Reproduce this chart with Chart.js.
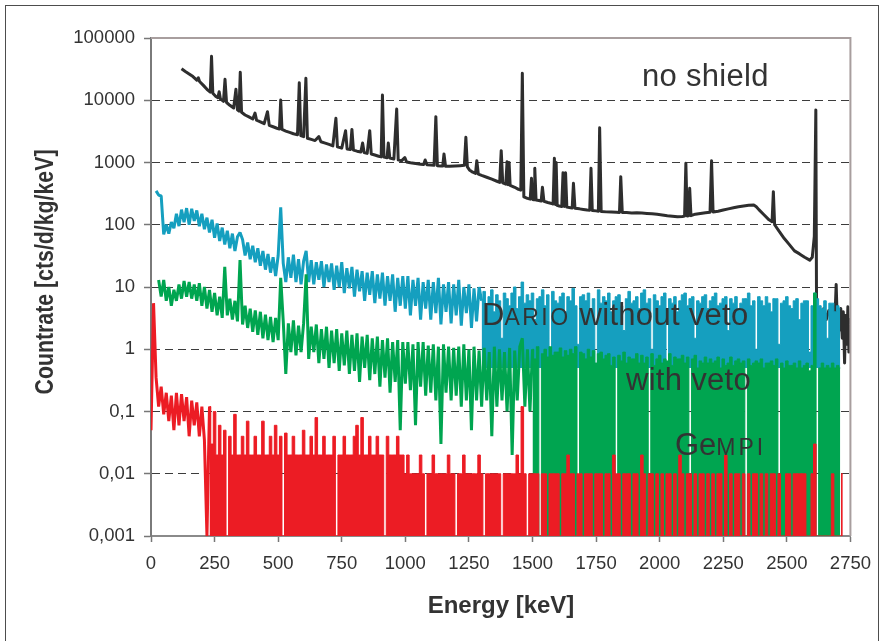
<!DOCTYPE html>
<html lang="es">
<head>
<meta charset="utf-8">
<title>Espectros de fondo</title>
<script src="https://cdn.jsdelivr.net/npm/chart.js@4.4.1/dist/chart.umd.min.js"></script>
<style>
  html, body { margin: 0; padding: 0; background: #ffffff; }
  canvas { display: block; }
</style>
</head>
<body>
<canvas id="graficoEspectro" width="882" height="641"></canvas>
<script>
// Ejes
const ticksEnergia = [0, 250, 500, 750, 1000, 1250, 1500, 1750, 2000, 2250, 2500, 2750];
const ticksTasa = [0.001, 0.01, 0.1, 1, 10, 100, 1000, 10000, 100000];
const etiquetasTasa = ['0,001', '0,01', '0,1', '1', '10', '100', '1000', '10000', '100000'];

// Canales de 10 keV (0 ... 2720 keV) para DARIO y GeMPI
const anchoCanal = 10;
const energiaCanal = [];
for (let e = 0; e <= 2720; e += anchoCanal) energiaCanal.push(e);

// GeMPI (0 = canal vacio)
const gempi = [
  0.05, 5.5, 0.35, 0.12, 0.25, 0.09, 0.2, 0.07, 0.18, 0.05,     // 0
  0.2, 0.06, 0.19, 0.07, 0.17, 0.04, 0.15, 0.06, 0.14, 0.04,    // 100
  0.12, 0.035, 0, 0.12, 0.03, 0.1, 0.02, 0.06, 0.02, 0.05,      // 200
  0, 0.04, 0.02, 0.09, 0.02, 0.02, 0.04, 0.02, 0.07, 0.02,      // 300
  0.02, 0.04, 0.02, 0.02, 0.07, 0.02, 0.02, 0.04, 0.02, 0.06,   // 400
  0.02, 0.04, 0, 0.045, 0.02, 0.02, 0.04, 0.02, 0.02, 0.02,     // 500
  0.05, 0.02, 0.02, 0.04, 0.02, 0.08, 0.02, 0.02, 0.04, 0.02,   // 600
  0.02, 0.02, 0.04, 0, 0.02, 0.02, 0.04, 0.02, 0.02, 0.02,      // 700
  0.04, 0.06, 0.02, 0.08, 0.02, 0.02, 0.04, 0.02, 0.02, 0.04,   // 800
  0.02, 0.02, 0, 0.04, 0.02, 0.02, 0.02, 0.04, 0.02, 0.02,      // 900
  0.01, 0.02, 0.01, 0.01, 0.01, 0.01, 0.02, 0.01, 0, 0.01,      // 1000
  0.01, 0.02, 0.01, 0.01, 0.01, 0.01, 0.01, 0.02, 0.01, 0.01,   // 1100
  0, 0.01, 0.01, 0.02, 0.01, 0.01, 0.01, 0.01, 0.01, 0.02,      // 1200
  0.01, 0, 0.01, 0.01, 0.01, 0.01, 0.01, 0.01, 0, 0.01,         // 1300
  0.01, 0.01, 0.01, 0.01, 0.02, 0.01, 0.12, 0.01, 0, 0.01,      // 1400
  0.01, 0.01, 0.01, 0, 0.01, 0.01, 0, 0.01, 0.01, 0.01,         // 1500
  0.01, 0, 0.01, 0.01, 0.02, 0.01, 0.01, 0, 0.01, 0.01,         // 1600
  0, 0.01, 0.01, 0.01, 0, 0.01, 0.01, 0.01, 0, 0.01,            // 1700
  0.01, 0, 0.02, 0.01, 0.01, 0, 0.01, 0.01, 0.01, 0,            // 1800
  0.01, 0.01, 0, 0.02, 0.01, 0, 0.01, 0.01, 0, 0.01,            // 1900
  0, 0.01, 0, 0.01, 0.01, 0, 0.01, 0, 0.02, 0.01,               // 2000
  0, 0.01, 0.01, 0, 0.01, 0, 0.01, 0.01, 0, 0.01,               // 2100
  0, 0.01, 0, 0.01, 0.01, 0, 0.02, 0, 0.01, 0,                  // 2200
  0.01, 0.01, 0, 0.01, 0, 0.01, 0, 0.01, 0.01, 0,               // 2300
  0.01, 0, 0.01, 0, 0.01, 0.01, 0, 0.01, 0, 0,                  // 2400
  0.01, 0.01, 0, 0.01, 0.01, 0.01, 0.01, 0.01, 0, 0,            // 2500
  0.01, 0.03, 0, 0, 0, 0, 0, 0, 0.01, 0,                        // 2600
  0, 0, 0.01                                                    // 2700
];

// DARIO con veto
const conVeto = [
  null, null, null, 13, 7, 13, 6, 10, 5, 9,                     // 0
  6, 11, 6.5, 12.5, 7, 12, 6.5, 11, 6, 11.5,                    // 100
  5, 10, 4.5, 9, 4, 8, 3.5, 7, 3.2, 21,                         // 200
  3.5, 6.5, 3, 6, 2.8, 27, 2.5, 5, 2.2, 4.5,                    // 300
  1.9, 4.2, 1.7, 4, 1.5, 3.6, 1.4, 3.3, 1.3, 3.2,               // 400
  1.4, 14, 2.8, 0.4, 2.6, 0.9, 2.9, 0.8, 2.4, 0.9,              // 500
  2.6, 16, 0.7, 2.3, 0.9, 2.5, 0.6, 2.1, 0.7, 2.3,              // 600
  0.5, 2, 0.6, 2.1, 0.45, 1.8, 0.55, 2, 0.4, 1.7,               // 700
  0.45, 1.8, 0.3, 1.6, 0.5, 1.7, 0.32, 1.5, 0.4, 1.6,           // 800
  0.25, 1.4, 0.35, 1.5, 0.2, 1.3, 0.3, 1.4, 0.05, 1.3,          // 900
  0.28, 1.3, 0.22, 1.2, 0.06, 1.3, 0.25, 1.3, 0.18, 1.15,       // 1000
  0.2, 1.2, 0.15, 1.1, 0.03, 1.2, 0.2, 1.1, 0.15, 1.05,         // 1100
  0.18, 1.1, 0.12, 1.2, 0.15, 1, 0.05, 1.1, 0.15, 0.95,         // 1200
  0.12, 1.05, 0.15, 0.9, 0.04, 1.1, 0.12, 1, 0.15, 0.9,         // 1300
  0.1, 1.05, 0.02, 0.95, 0.15, 1.1, 1.5, 0.12, 1, 0.1,          // 1400
  1, 0.7, 1.1, 0, 0.85, 1, 0.75, 1.1, 0.8, 0.9,                 // 1500
  0.9, 1.05, 0.75, 0.95, 0.8, 1, 0.85, 1.1, 0, 0.9,             // 1600
  0.85, 0.7, 1, 0.75, 0.95, 0.6, 0.85, 0.9, 0.7, 0.8,           // 1700
  0.85, 0.55, 0.75, 0, 0.8, 0.65, 0.9, 0.6, 0.75, 0.7,          // 1800
  0.7, 0.85, 0.6, 0.8, 0.6, 0.75, 0, 0.85, 0.55, 0.7,           // 1900
  0.8, 0.6, 0.7, 0.65, 0.85, 0.55, 0.75, 0.7, 0.7, 0.8,         // 2000
  0.6, 0.75, 0, 0.7, 0.8, 0.5, 0.65, 0.6, 0.75, 0.6,            // 2100
  0.7, 0.6, 0.65, 0.75, 0.5, 0.7, 0.55, 0.6, 0.75, 0.55,        // 2200
  0.65, 0.7, 0.6, 0.65, 0, 0.7, 0.55, 0.6, 0.65, 0.6,           // 2300
  0.7, 0.5, 0.6, 0.6, 0.65, 0.55, 0.7, 0, 0.6, 0.5,             // 2400
  0.65, 0.55, 0.55, 0.6, 0.5, 0.65, 0.5, 0.55, 0.6, 0.45,       // 2500
  0.55, 8, 0, 0.5, 0.6, 0.5, 0.55, 0.5, 0.6, 0.5,               // 2600
  0.55, 0.5, null                                               // 2700
];

// DARIO sin veto
const sinVeto = [
  null, null, 350, 300, 290, 70, 100, 72, 110, 88,              // 0
  150, 95, 175, 110, 185, 100, 180, 115, 170, 95,               // 100
  150, 85, 130, 75, 120, 62, 105, 55, 90, 48,                   // 200
  80, 42, 72, 38, 64, 75, 58, 32, 52, 28,                       // 300
  46, 25, 42, 22, 38, 19, 34, 17, 30, 15,                       // 400
  32, 190, 24, 12, 30, 14, 33, 12, 28, 11,                      // 500
  26, 38, 12, 27, 11, 25, 13, 26, 10, 23,                       // 600
  12, 24, 9, 22, 10, 25, 8, 20, 9.5, 21,                        // 700
  7, 19, 8.5, 18, 6, 17, 7.5, 18, 5.5, 16,                      // 800
  6.5, 17, 5, 15, 6, 16, 4, 14, 5, 15,                          // 900
  4.5, 15, 3.5, 13, 5, 14, 3, 12, 4.5, 13,                      // 1000
  3, 12, 3.8, 14, 2.5, 11, 4, 12, 2.6, 11,                      // 1100
  3.5, 13, 2.4, 10, 3.8, 11, 2.2, 9.5, 2.8, 10,                 // 1200
  6, 8.5, 5, 7, 9, 4, 7.5, 6, 1.5, 8,                           // 1300
  6.5, 5, 8, 10, 4.5, 7, 12, 5.5, 7.5, 6,                       // 1400
  8, 3, 6.5, 7, 9, 5, 7.5, 0.8, 8.5, 6,                         // 1500
  5.5, 7, 8, 4, 7, 6, 9.5, 5, 1.2, 7,                           // 1600
  7.5, 6, 8, 4.5, 6.5, 0, 9, 5.5, 7, 6,                         // 1700
  8, 4, 6, 7, 7.5, 5, 2, 6.5, 8.5, 5.5,                         // 1800
  6, 7, 4.5, 8, 9, 5.5, 6.5, 1, 7.5, 6,                         // 1900
  5, 7, 8, 0, 6.5, 5.5, 7, 4, 6, 7.5,                           // 2000
  8, 5, 6.5, 7, 1.5, 6, 5.5, 7, 7.5, 4.5,                       // 2100
  6, 7, 8, 5, 5.5, 6.5, 7, 2, 6.5, 5.5,                         // 2200
  7, 4.5, 5.5, 6.5, 6.5, 8, 5, 6, 1, 7,                         // 2300
  6, 5, 7, 5.5, 4, 6.5, 6.5, 1.2, 5.5, 6,                       // 2400
  7, 5, 4.5, 6, 6.5, 3, 5.5, 6, 6, 0.9,                         // 2500
  5, 8, 6.5, 5, 4.5, 6, 1.5, 5.5, 5.5, 4,                       // 2600
  5, 4.5, null                                                  // 2700
];

// Sin blindaje: energia (keV) y tasa
const sinBlindajeE = [
  120, 135, 150, 165, 180, 186, 191, 205, 220, 233, 238, 243, 255, 263, 268, 273, 285, 291, 297,
  310, 325, 334, 340, 346, 351, 356, 370, 385, 400, 409, 415, 430, 445, 458, 465, 480, 495,
  505, 510, 515, 530, 545, 560, 576, 583, 589, 600, 609, 615, 630, 645, 660, 668, 685,
  700, 715, 727, 733, 750, 765, 771, 784, 790, 796, 810, 825, 832, 838, 850, 860, 866, 880, 895,
  905, 910, 916, 928, 933, 939, 955, 966, 972, 985, 998, 1005, 1020, 1040, 1060, 1072, 1078, 1085,
  1100, 1113, 1120, 1126, 1140, 1147, 1152, 1158, 1175, 1195, 1215, 1232, 1238, 1244, 1252, 1265,
  1276, 1281, 1287, 1300, 1320, 1340, 1360, 1371, 1377, 1383, 1395, 1400, 1404, 1408, 1412, 1430,
  1445, 1454, 1460, 1466, 1480, 1491, 1496, 1501, 1506, 1509, 1514, 1525, 1534, 1539, 1545, 1560,
  1575, 1581, 1586, 1590, 1593, 1597, 1605, 1615, 1620, 1625, 1630, 1635, 1650, 1656, 1661, 1667,
  1685, 1700, 1715, 1725, 1730, 1735, 1750, 1759, 1764, 1770, 1790, 1810, 1830, 1842, 1847, 1853,
  1870, 1890, 1910, 1930, 1950, 1970, 1990, 2010, 2030, 2050, 2070, 2090, 2098, 2103, 2108, 2113,
  2118, 2123, 2140, 2160, 2180, 2198, 2204, 2210, 2230, 2250, 2270, 2290, 2310, 2330, 2350, 2370,
  2380, 2390, 2410, 2430, 2442, 2447, 2452, 2470, 2490, 2510, 2530, 2550, 2570, 2590, 2600, 2608,
  2614, 2617, 2625, 2635, 2645, 2655, 2665, 2675, 2685, 2690, 2694, 2698, 2705, 2712, 2718, 2722,
  2727, 2731, 2736, 2740, 2744, 2748, 2750
];
const sinBlindajeV = [
  32000, 29000, 26500, 24000, 21000, 23000, 20000, 17500, 15000, 13500, 51000, 13000, 11500, 11000, 13700, 10500, 9600, 21700, 9200,
  8300, 7500, 15000, 7000, 6700, 28100, 6400, 5800, 5400, 5000, 6200, 4800, 4500, 4200, 6550, 3950, 3750, 3550,
  3450, 10100, 3400, 3200, 3050, 2900, 2800, 19100, 2700, 2600, 22500, 2450, 2350, 2250, 2600, 2150, 2050,
  1950, 1850, 5130, 1780, 1700, 3240, 1650, 1620, 3400, 1580, 1520, 1480, 2050, 1450, 1400, 3240, 1370, 1320, 1260,
  1230, 12100, 1220, 1190, 2050, 1180, 1140, 7230, 1100, 1060, 1200, 1020, 990, 960, 940, 930, 1100, 920,
  910, 900, 5450, 890, 880, 875, 1370, 870, 870, 880, 890, 900, 2540, 850, 760, 700,
  670, 1070, 650, 620, 580, 540, 500, 480, 1550, 470, 450, 1030, 440, 1000, 430, 400,
  370, 360, 27100, 280, 265, 258, 557, 255, 252, 807, 250, 245, 240, 400, 238, 228,
  220, 215, 1170, 212, 1000, 205, 200, 197, 686, 196, 686, 192, 188, 186, 463, 184,
  180, 176, 172, 171, 807, 170, 167, 165, 3620, 163, 161, 160, 159, 158, 592, 157,
  157, 155, 156, 154, 152, 150, 147, 144, 140, 137, 134, 136, 138, 970, 138, 139,
  385, 140, 148, 152, 156, 159, 1070, 160, 165, 172, 180, 188, 195, 200, 205, 208,
  195, 175, 145, 120, 112, 340, 100, 78, 60, 48, 38, 34, 30, 27, 30, 65,
  7000, 3, 4, 3.2, 4.5, 3, 4.2, 3.5, 4.8, 4, 11, 3, 2, 4.5, 1.5, 4,
  0.6, 3.5, 1.2, 4.8, 0.9, 3, 2.5
];

const ROJO = '#ec1c24';
const VERDE = '#00a550';
const CIAN = '#159fbf';
const NEGRO = '#2e2e2e';
const TEXTO = '#333333';
const FUENTE = '"Liberation Sans", Arial, Helvetica, sans-serif';

// canal vacio -> se dibuja sobre el borde inferior del eje log
const PISO = 0.001;
const aPuntos = (xs, ys) => xs.map((x, i) => ({ x: x, y: ys[i] === 0 ? PISO : ys[i] }));
// tramo del espectro entre dos energias
const tramo = (ys, desde, hasta) => aPuntos(energiaCanal, ys).filter(p => p.x >= desde && p.x <= hasta);

// parte ruidosa (banda en zigzag) y parte de cuentas bajas (histograma relleno)
const banda = (label, color, ys, hasta) => ({
  label: label, data: tramo(ys, 0, hasta), borderColor: color, borderWidth: 3,
  borderJoinStyle: 'bevel', fill: false
});
const histo = (label, color, ys, desde, relleno) => ({
  label: label, data: tramo(ys, desde, 2720), borderColor: color, borderWidth: 1,
  stepped: 'middle', fill: relleno, backgroundColor: color
});

// Textos, titulos y marco
const textosPlugin = {
  id: 'textos',
  beforeDraw(chart) {
    const ctx = chart.ctx;
    ctx.save();
    ctx.fillStyle = '#ffffff';
    ctx.fillRect(0, 0, chart.width, chart.height);
    ctx.restore();
  },
  afterDraw(chart) {
    const ctx = chart.ctx;
    const a = chart.chartArea;
    ctx.save();

    ctx.strokeStyle = '#4d4d4d';
    ctx.lineWidth = 1;
    ctx.strokeRect(5.5, 5.5, 873, 640);

    ctx.strokeStyle = '#a89e9e';
    ctx.lineWidth = 2;
    ctx.beginPath();
    ctx.moveTo(a.left, a.top);
    ctx.lineTo(a.right, a.top);
    ctx.lineTo(a.right, a.bottom);
    ctx.stroke();

    ctx.fillStyle = TEXTO;
    ctx.textBaseline = 'alphabetic';
    ctx.textAlign = 'left';

    const escribir = (partes, x, y) => {
      for (const [texto, tam, esp] of partes) {
        ctx.font = tam + 'px ' + FUENTE;
        ctx.letterSpacing = esp + 'px';
        ctx.fillText(texto, x, y);
        x += ctx.measureText(texto).width;
      }
      ctx.letterSpacing = '0px';
    };
    escribir([['no shield', 31, 0.3]], 642, 86);
    escribir([['D', 31, 0], ['ARIO', 23, 2.5], [' without veto', 31, 0.3]], 482, 325);
    escribir([['with veto', 31, 0.3]], 626, 390);
    escribir([['Ge', 31, 0], ['MPI', 23, 3]], 675, 455);

    ctx.font = 'bold 24px ' + FUENTE;
    ctx.textAlign = 'center';
    ctx.fillText('Energy [keV]', 501, 613);

    ctx.translate(53, 272);
    ctx.rotate(-Math.PI / 2);
    ctx.font = 'bold 25px ' + FUENTE;
    ctx.fillText('Countrate [cts/d/kg/keV]', 0, 0, 245);
    ctx.restore();
  }
};

const ctx = document.getElementById('graficoEspectro').getContext('2d');
const graficoActual = new Chart(ctx, {
  type: 'line',
  data: {
    // el primero se dibuja encima
    datasets: [
      histo('GeMPI', ROJO, gempi, 230, 'start'),
      banda('GeMPI', ROJO, gempi, 230),
      histo('with veto', VERDE, conVeto, 1500, 'start'),
      banda('with veto', VERDE, conVeto, 1500),
      histo('DARIO without veto', CIAN, sinVeto, 1300, { value: 0.5 }),
      banda('DARIO without veto', CIAN, sinVeto, 1300),
      {
        label: 'no shield',
        data: aPuntos(sinBlindajeE, sinBlindajeV),
        borderColor: NEGRO,
        borderWidth: 3,
        borderJoinStyle: 'round',
        fill: false
      }
    ]
  },
  options: {
    responsive: false,
    animation: false,
    devicePixelRatio: 1,
    layout: { padding: { left: 0, top: 38, right: 31, bottom: 0 } },
    plugins: { legend: { display: false }, tooltip: { enabled: false } },
    elements: { point: { radius: 0 }, line: { tension: 0 } },
    scales: {
      x: {
        type: 'linear',
        min: 0,
        max: 2750,
        afterBuildTicks: s => { s.ticks = ticksEnergia.map(v => ({ value: v })); },
        afterFit: s => { s.height = 105; },
        ticks: {
          color: TEXTO,
          font: { family: FUENTE, size: 18.5 },
          padding: 11,
          maxRotation: 0,
          autoSkip: false,
          callback: v => String(v)
        },
        grid: { drawOnChartArea: false, drawTicks: true, tickLength: 6, tickColor: '#777777', tickWidth: 1.5 },
        border: { display: true, color: '#8a8a8a', width: 2 }
      },
      y: {
        type: 'logarithmic',
        min: 0.001,
        max: 100000,
        afterBuildTicks: s => { s.ticks = ticksTasa.map(v => ({ value: v })); },
        afterFit: s => { s.width = 151; },
        ticks: {
          color: TEXTO,
          font: { family: FUENTE, size: 18.5 },
          padding: 9,
          autoSkip: false,
          callback: (v, i) => etiquetasTasa[i]
        },
        grid: {
          color: c => (c.tick && (c.tick.value <= 0.001 || c.tick.value >= 100000)) ? 'rgba(0,0,0,0)' : '#3c3c3c',
          lineWidth: 1,
          tickLength: 7,
          tickColor: '#777777',
          tickWidth: 1.5,
          tickBorderDash: []
        },
        border: { display: true, color: '#7a7a7a', width: 2, dash: [8, 5] }
      }
    }
  },
  plugins: [textosPlugin]
});
</script>
</body>
</html>
